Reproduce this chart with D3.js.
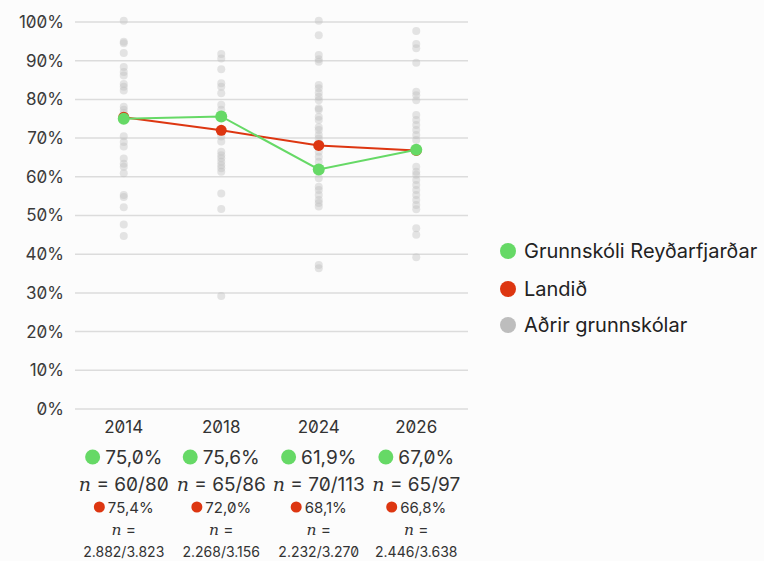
<!DOCTYPE html>
<html><head><meta charset="utf-8">
<script src="https://cdn.jsdelivr.net/npm/d3@7"></script>
<style>
html,body{margin:0;padding:0;background:#fcfcfc;}
svg{display:block;font-family:Inter,"Noto Sans",sans-serif;font-feature-settings:"zero" 1;}
</style></head><body>
<svg id="c" width="764" height="561"></svg>
<script>
const years = ["2014","2018","2024","2026"];
const schoolVals = [75.0, 75.6, 61.9, 67.0];
const nationVals = [75.4, 72.0, 68.1, 66.8];
const schoolN = ["60/80","65/86","70/113","65/97"];
const nationN = ["2.882/3.823","2.268/3.156","2.232/3.270","2.446/3.638"];
const others2014 = [100.3,94.9,94.5,92.0,88.4,87.1,86.2,84.0,83.3,82.3,78.1,77.3,76.5,70.5,69.0,67.8,64.7,63.4,62.6,60.9,55.3,54.8,52.1,47.7,44.7];
const others2018 = [91.7,90.6,87.8,84.2,83.3,81.6,78.6,77.3,71.7,70.4,69.1,66.5,65.6,64.8,63.9,63.0,62.2,61.3,55.7,51.7,29.2];
const others2024 = [100.3,96.6,91.5,90.4,89.7,83.7,82.9,81.7,80.7,79.8,77.7,77.3,75.5,74.7,72.8,72.1,70.8,69.9,68.7,67.8,66.5,65.2,63.9,59.6,57.4,56.6,55.3,54.0,53.2,52.3,37.2,36.4];
const others2026 = [97.7,94.3,93.2,89.5,82.0,81.1,79.8,76.0,74.7,73.4,72.1,70.8,69.5,62.6,61.3,60.5,59.2,57.9,56.6,55.3,54.0,52.7,51.6,46.7,45.0,39.2];
const others = [others2014, others2018, others2024, others2026];
const yTicks = [0,10,20,30,40,50,60,70,80,90,100];
const legendLabels = ["Grunnskóli Reyðarfjarðar","Landið","Aðrir grunnskólar"];
const colors = {school:"#66d966", nation:"#dd3611", other:"#bdbdbd"};

const svg = d3.select("#c");
const x = d3.scaleBand().domain(years).range([75,465]);
const y = d3.scaleLinear().domain([0,100]).range([409,22]);
const cx = d => x(d) + x.bandwidth()/2;
const fmt = v => v.toFixed(1).replace(".",",") + "%";

// grid
svg.append("g").selectAll("line").data(yTicks).join("line")
  .attr("x1",75).attr("x2",468).attr("y1",d=>y(d)).attr("y2",d=>y(d))
  .attr("stroke","#dcdcdc").attr("stroke-width",1.5);
// y labels
svg.append("g").selectAll("text").data(yTicks).join("text")
  .attr("x",64).attr("y",d=>y(d)).attr("dy","0.35em").attr("text-anchor","end")
  .attr("font-size",17).attr("fill","#3a3a3a").text(d=>d+"%");

// other dots
years.forEach((yr,i)=>{
  svg.append("g").selectAll("circle").data(others[i]).join("circle")
    .attr("cx",cx(yr)).attr("cy",d=>y(d)).attr("r",4)
    .attr("fill",colors.other).attr("fill-opacity",0.4);
});

const line = d3.line().x((d,i)=>cx(years[i])).y(d=>y(d));
svg.append("path").datum(nationVals).attr("d",line).attr("fill","none").attr("stroke",colors.nation).attr("stroke-width",2);
svg.append("path").datum(schoolVals).attr("d",line).attr("fill","none").attr("stroke",colors.school).attr("stroke-width",2);
svg.append("g").selectAll("circle").data(nationVals).join("circle")
  .attr("cx",(d,i)=>cx(years[i])).attr("cy",d=>y(d)).attr("r",5.5).attr("fill",colors.nation);
svg.append("g").selectAll("circle").data(schoolVals).join("circle")
  .attr("cx",(d,i)=>cx(years[i])).attr("cy",d=>y(d)).attr("r",6).attr("fill",colors.school);

// bottom labels
years.forEach((yr,i)=>{
  const c = cx(yr);
  svg.append("text").attr("x",c).attr("y",433).attr("text-anchor","middle")
    .attr("font-size",17).attr("fill","#333").text(yr);
  // green row
  const g1 = svg.append("g");
  const t1 = g1.append("text").attr("y",464).attr("font-size",19).attr("fill","#333").text(fmt(schoolVals[i]));
  const w1 = t1.node().getComputedTextLength();
  const tot1 = 15 + 5 + w1;
  const s1 = c - tot1/2;
  g1.append("circle").attr("cx",s1+7.5).attr("cy",457).attr("r",7.5).attr("fill",colors.school);
  t1.attr("x",s1+20);
  // n row
  const t2 = svg.append("text").attr("x",c).attr("y",491).attr("text-anchor","middle").attr("font-size",19).attr("fill","#333");
  t2.append("tspan").attr("font-family","'DejaVu Serif',serif").attr("font-style","italic").text("n");
  t2.append("tspan").text(" = "+schoolN[i]);
  // red row
  const g3 = svg.append("g");
  const t3 = g3.append("text").attr("y",512.5).attr("font-size",15).attr("fill","#333").text(fmt(nationVals[i]));
  const w3 = t3.node().getComputedTextLength();
  const tot3 = 11 + 3 + w3;
  const s3 = c - tot3/2;
  g3.append("circle").attr("cx",s3+5.5).attr("cy",507).attr("r",5.5).attr("fill",colors.nation);
  t3.attr("x",s3+14);
  const t4 = svg.append("text").attr("x",c).attr("y",535).attr("text-anchor","middle").attr("font-size",15.5).attr("fill","#333");
  t4.append("tspan").attr("font-family","'DejaVu Serif',serif").attr("font-style","italic").text("n");
  t4.append("tspan").text(" =");
  svg.append("text").attr("x",c).attr("y",557).attr("text-anchor","middle").attr("font-size",14).attr("fill","#333").text(nationN[i]);
});

// legend
const lg = svg.append("g");
const lc = [colors.school, colors.nation, colors.other];
const ly = [251,289,325];
legendLabels.forEach((l,i)=>{
  lg.append("circle").attr("cx",508).attr("cy",ly[i]).attr("r",8).attr("fill",lc[i]);
  lg.append("text").attr("x",524).attr("y",ly[i]).attr("dy","0.35em").attr("font-size",20).attr("fill","#222").text(l);
});
</script></body></html>
